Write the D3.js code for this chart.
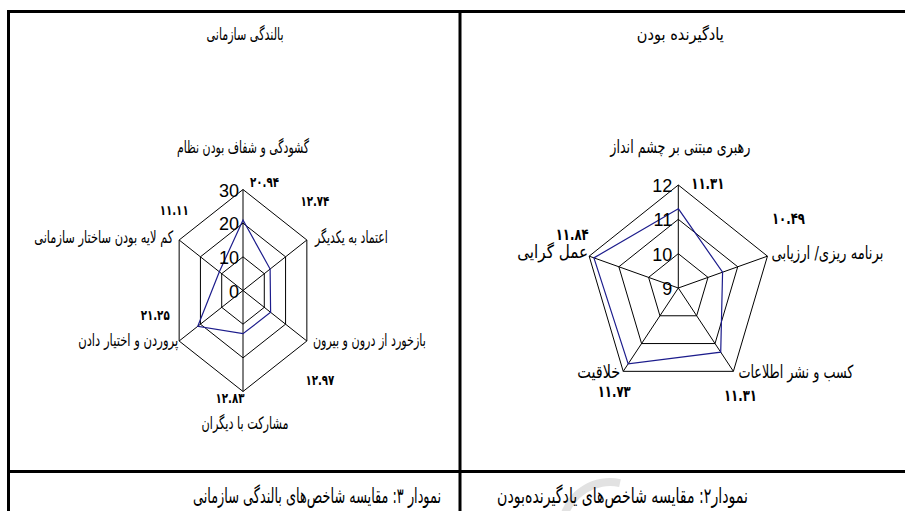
<!DOCTYPE html>
<html>
<head>
<meta charset="utf-8" />
<script src="https://cdn.jsdelivr.net/npm/d3@7"></script>
<style>
  body { margin: 0; background: #fff; }
  svg { display: block; }
  .fa { font-family: "DejaVu Sans", sans-serif; fill: #000; }
  .tick { font-family: "Liberation Sans", Arial, sans-serif; font-size: 18px; fill: #000; }
</style>
</head>
<body>
<svg id="chart" width="905" height="511"></svg>
<script>
// left panel: بالندگی سازمانی
const leftTitle = "بالندگی سازمانی";
const leftCategories = ["گشودگی و شفاف بودن نظام", "اعتماد به یکدیگر", "بازخورد از درون و بیرون",
  "مشارکت با دیگران", "پروردن و اختیار دادن", "کم لایه بودن ساختار سازمانی"];
const leftValues = [20.94, 12.74, 12.97, 12.83, 21.25, 11.11];
const leftTicks = [0, 10, 20, 30];
const leftCaption = "نمودار ۳: مقایسه شاخص‌های بالندگی سازمانی";

// right panel: یادگیرنده بودن
const rightTitle = "یادگیرنده بودن";
const rightCategories = ["رهبری مبتنی بر چشم انداز", "برنامه ریزی/ ارزیابی", "کسب و نشر اطلاعات",
  "خلاقیت", "عمل گرایی"];
const rightValues = [11.31, 10.49, 11.31, 11.73, 11.84];
const rightTicks = [9, 10, 11, 12];
const rightCaption = "نمودار۲: مقایسه شاخص‌های یادگیرنده‌بودن";

const svg = d3.select("#chart");

const faDigits = (v) => v.toFixed(2).replace(/[0-9]/g, (c) => "۰۱۲۳۴۵۶۷۸۹"[+c]);

// Persian text set word by word from the right, then squeezed to the width it has in the source
function addText(g, str, x, y, anchor, size, width, weight) {
  const box = g.append("g");
  const inner = box.append("g");
  const space = size * 0.318;
  let cursor = 0;
  str.split(" ").forEach((word, wi) => {
    if (wi > 0) cursor -= space;
    const t = inner.append("text")
      .attr("class", "fa")
      .attr("direction", "rtl")
      .attr("text-anchor", "start")
      .attr("x", cursor)
      .attr("y", 0)
      .attr("font-size", size)
      .attr("font-weight", weight || "normal")
      .text(word);
    cursor -= t.node().getComputedTextLength();
  });
  const natural = -cursor;
  const w = width || natural;
  const right = anchor === "middle" ? x + w / 2 : anchor === "end" ? x : x + w;
  box.attr("transform", `translate(${right},${y})`);
  inner.attr("transform", `scale(${w / natural},1)`);
  return box;
}

// watermark arc behind the captions
svg.append("path")
  .attr("transform", "translate(610,530)")
  .attr("d", d3.arc().innerRadius(44).outerRadius(52).startAngle(-75 * Math.PI / 180).endAngle(12 * Math.PI / 180)())
  .attr("fill", "#e2e2e2");

// table rules
const rules = svg.append("g").attr("stroke", "#000").attr("stroke-width", 3);
rules.append("line").attr("x1", 7).attr("x2", 905).attr("y1", 11.5).attr("y2", 11.5);
rules.append("line").attr("x1", 8.5).attr("x2", 8.5).attr("y1", 10).attr("y2", 511);
rules.append("line").attr("x1", 460).attr("x2", 460).attr("y1", 10).attr("y2", 511);
rules.append("line").attr("x1", 7).attr("x2", 905).attr("y1", 471.5).attr("y2", 471.5);

function drawRadar(opt) {
  const g = svg.append("g");
  const n = opt.categories.length;
  const r = d3.scaleLinear().domain(d3.extent(opt.ticks)).range([0, opt.R]);
  const angle = (i) => (i * 2 * Math.PI) / n;
  const pt = (i, v) => [opt.cx + r(v) * Math.sin(angle(i)) * opt.kx, opt.cy - r(v) * Math.cos(angle(i))];
  const closed = d3.line().curve(d3.curveLinearClosed);
  const top = opt.ticks[opt.ticks.length - 1];

  // rings
  opt.ticks.filter((t) => r(t) > 0).forEach((t) => {
    g.append("path")
      .attr("d", closed(d3.range(n).map((i) => pt(i, t))))
      .attr("fill", "none")
      .attr("stroke", "#000")
      .attr("stroke-width", 1);
  });
  // spokes
  g.selectAll("line.spoke").data(d3.range(n)).join("line")
    .attr("class", "spoke")
    .attr("x1", opt.cx).attr("y1", opt.cy)
    .attr("x2", (i) => pt(i, top)[0]).attr("y2", (i) => pt(i, top)[1])
    .attr("stroke", "#000").attr("stroke-width", 1);

  // series
  g.append("path")
    .attr("d", closed(opt.values.map((v, i) => pt(i, v))))
    .attr("fill", "none")
    .attr("stroke", "#1c1c8c")
    .attr("stroke-width", 1.2);

  // axis tick labels
  g.selectAll("text.tick").data(opt.ticks).join("text")
    .attr("class", "tick")
    .attr("x", opt.cx - opt.tickGap)
    .attr("y", (t) => opt.cy - r(t) + 7)
    .attr("text-anchor", "end")
    .text((t) => t);

  // category & value labels
  opt.categories.forEach((c, i) => {
    const [vx, vy] = pt(i, top);
    const cl = opt.catLayout[i];
    addText(g, c, vx + cl[0], vy + cl[1], cl[2], opt.catSize, cl[3]);
    const vl = opt.valLayout[i];
    addText(g, faDigits(opt.values[i]), vx + vl[0], vy + vl[1], vl[2], opt.valSize, opt.valWidth, "bold");
  });

  addText(g, opt.title, opt.cx + opt.titleDx, 40, "middle", 17, opt.titleWidth);
}

drawRadar({
  categories: leftCategories, values: leftValues, ticks: leftTicks, title: leftTitle,
  cx: 243, cy: 290.5, R: 101, kx: 0.73, tickGap: 4,
  catSize: 17, valSize: 14, valWidth: 29, titleDx: 2, titleWidth: 77,
  catLayout: [[0, -36.5, "middle", 132], [8, 3, "start", 73], [6, 5, "start", 113],
    [2, 37, "middle", 87], [-1, 5, "end", 100], [-6, 3, "end", 139]],
  valLayout: [[7, -2.5, "start"], [8, -34, "middle"], [13, 44, "middle"],
    [-13, 11.5, "middle"], [-24, -21, "middle"], [-5, -25, "middle"]]
});

drawRadar({
  categories: rightCategories, values: rightValues, ticks: rightTicks, title: rightTitle,
  cx: 678.3, cy: 288, R: 103, kx: 0.91, tickGap: 6,
  catSize: 18, valSize: 16, valWidth: 33, titleDx: 2, titleWidth: 87,
  catLayout: [[2, -32, "middle", 140], [4, 3, "start", 112], [5, 7, "start", 115],
    [-3, 7, "end", 43], [-1, 2, "end", 71]],
  valLayout: [[13, 4, "start"], [21, -32, "middle"], [7, 30, "middle"],
    [-9, 26, "middle"], [-17, -16, "middle"]]
});

// captions
const caps = svg.append("g");
addText(caps, leftCaption, 441, 503, "end", 21, 248);
addText(caps, rightCaption, 748, 503, "end", 21, 251);
</script>
</body>
</html>
